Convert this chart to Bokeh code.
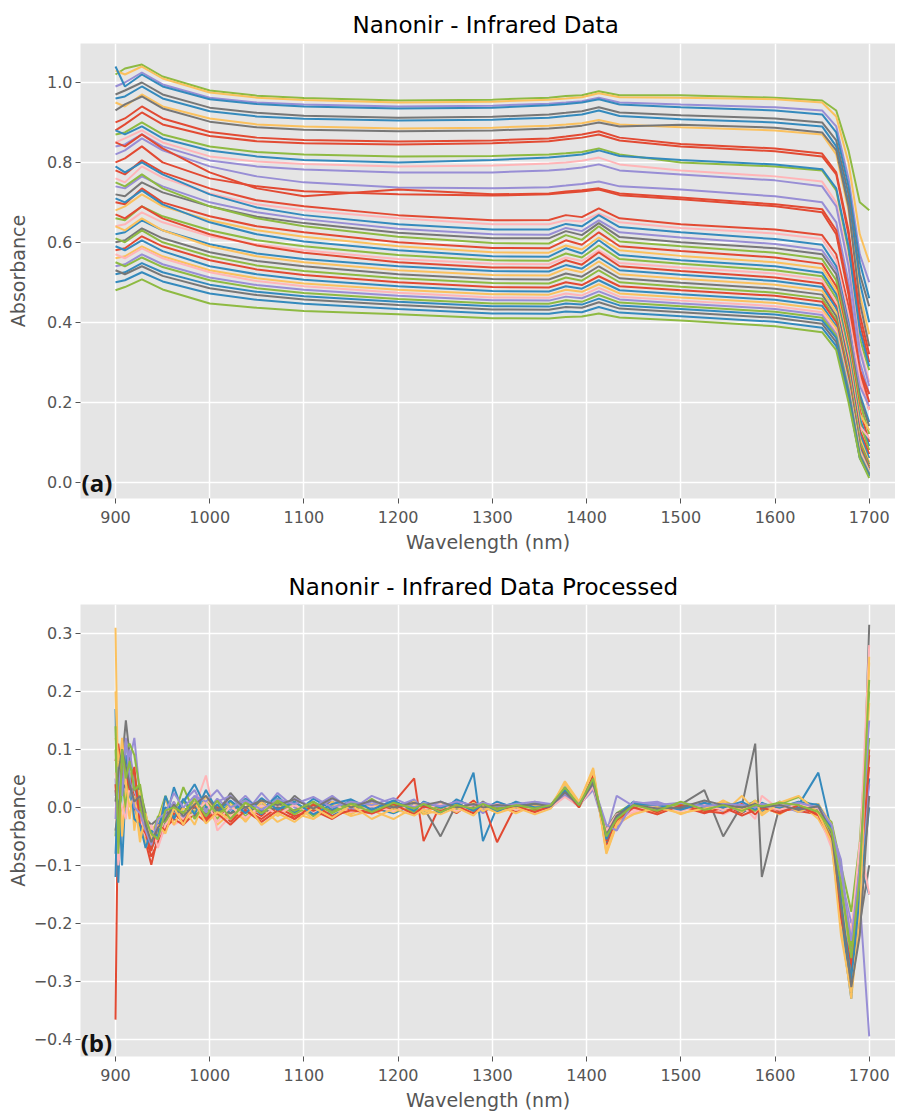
from bokeh.plotting import figure
from bokeh.layouts import column
from bokeh.models import Range1d, Label, FixedTicker, CustomJSTickFormatter
from bokeh.embed import file_html
from bokeh.resources import INLINE

# ---------------- data ----------------
WAVELENGTH_RAW = [900, 910, 928, 950, 1000, 1050, 1100, 1200, 1300, 1360, 1378,
                  1395, 1413, 1435, 1500, 1600, 1650, 1665, 1678, 1690, 1700]

# upper (flatter) spectra
raw_u01 = [1.02, 1.035, 1.045, 1.015, 0.98, 0.967, 0.961, 0.955, 0.957, 0.962, 0.966, 0.968, 0.978, 0.968, 0.968, 0.962, 0.955, 0.93, 0.83, 0.70, 0.68]
raw_u02 = [1.03, 1.02, 1.04, 1.01, 0.975, 0.962, 0.956, 0.95, 0.952, 0.957, 0.96, 0.963, 0.973, 0.963, 0.962, 0.958, 0.95, 0.915, 0.80, 0.62, 0.55]
raw_u03 = [0.99, 1.0, 1.025, 0.995, 0.962, 0.95, 0.945, 0.94, 0.942, 0.947, 0.95, 0.953, 0.962, 0.95, 0.945, 0.938, 0.93, 0.89, 0.76, 0.57, 0.5]
raw_u04 = [1.04, 0.99, 1.02, 0.99, 0.958, 0.946, 0.94, 0.935, 0.937, 0.943, 0.946, 0.95, 0.958, 0.945, 0.938, 0.93, 0.92, 0.875, 0.74, 0.55, 0.46]
raw_u05 = [0.97, 0.98, 1.0, 0.97, 0.937, 0.924, 0.917, 0.912, 0.914, 0.92, 0.924, 0.928, 0.938, 0.925, 0.918, 0.91, 0.9, 0.855, 0.72, 0.52, 0.44]
raw_u06 = [0.96, 0.965, 0.99, 0.96, 0.928, 0.915, 0.909, 0.905, 0.907, 0.912, 0.916, 0.92, 0.93, 0.916, 0.908, 0.9, 0.89, 0.84, 0.70, 0.5, 0.4]
raw_u07 = [0.95, 0.94, 0.97, 0.94, 0.91, 0.895, 0.89, 0.885, 0.887, 0.892, 0.895, 0.898, 0.906, 0.895, 0.888, 0.88, 0.87, 0.82, 0.68, 0.47, 0.37]
raw_u08 = [0.93, 0.945, 0.965, 0.935, 0.902, 0.888, 0.882, 0.878, 0.88, 0.885, 0.888, 0.892, 0.9, 0.89, 0.894, 0.887, 0.875, 0.83, 0.69, 0.45, 0.34]
raw_u09 = [0.90, 0.91, 0.94, 0.91, 0.876, 0.862, 0.856, 0.852, 0.855, 0.86, 0.865, 0.87, 0.878, 0.862, 0.846, 0.835, 0.822, 0.775, 0.63, 0.42, 0.32]
raw_u10 = [0.88, 0.895, 0.925, 0.895, 0.866, 0.853, 0.848, 0.845, 0.848, 0.853, 0.858, 0.862, 0.87, 0.855, 0.84, 0.828, 0.815, 0.77, 0.62, 0.4, 0.3]
raw_u11 = [0.87, 0.875, 0.9, 0.87, 0.84, 0.826, 0.82, 0.815, 0.816, 0.82, 0.823, 0.826, 0.835, 0.82, 0.8, 0.79, 0.78, 0.73, 0.58, 0.36, 0.28]
raw_u12 = [0.88, 0.87, 0.89, 0.86, 0.83, 0.815, 0.806, 0.80, 0.806, 0.812, 0.816, 0.82, 0.83, 0.816, 0.806, 0.795, 0.783, 0.735, 0.59, 0.38, 0.29]
raw_u13 = [0.85, 0.86, 0.88, 0.85, 0.815, 0.802, 0.796, 0.79, 0.792, 0.797, 0.8, 0.804, 0.812, 0.795, 0.78, 0.765, 0.752, 0.70, 0.55, 0.34, 0.25]
raw_u14 = [0.84, 0.845, 0.87, 0.84, 0.805, 0.79, 0.782, 0.775, 0.775, 0.78, 0.783, 0.787, 0.795, 0.78, 0.77, 0.755, 0.74, 0.69, 0.54, 0.33, 0.24]
raw_u15 = [0.82, 0.83, 0.86, 0.83, 0.79, 0.765, 0.75, 0.737, 0.735, 0.738, 0.742, 0.746, 0.752, 0.74, 0.732, 0.715, 0.70, 0.65, 0.50, 0.30, 0.22]
raw_u16 = [0.85, 0.84, 0.87, 0.835, 0.775, 0.735, 0.715, 0.732, 0.72, 0.722, 0.727, 0.73, 0.735, 0.722, 0.712, 0.695, 0.683, 0.63, 0.48, 0.28, 0.2]
raw_u17 = [0.80, 0.81, 0.84, 0.80, 0.76, 0.74, 0.728, 0.72, 0.717, 0.72, 0.724, 0.727, 0.732, 0.718, 0.708, 0.69, 0.675, 0.62, 0.47, 0.27, 0.18]

# lower (sloping) spectra
raw_l01 = [0.78, 0.77, 0.805, 0.775, 0.735, 0.705, 0.69, 0.668, 0.655, 0.656, 0.668, 0.663, 0.685, 0.66, 0.645, 0.632, 0.618, 0.57, 0.44, 0.28, 0.22]
raw_l02 = [0.76, 0.75, 0.79, 0.762, 0.722, 0.695, 0.68, 0.66, 0.645, 0.645, 0.655, 0.652, 0.672, 0.65, 0.636, 0.622, 0.608, 0.555, 0.42, 0.26, 0.18]
raw_l03 = [0.79, 0.775, 0.80, 0.77, 0.72, 0.687, 0.668, 0.645, 0.632, 0.632, 0.646, 0.64, 0.668, 0.638, 0.625, 0.608, 0.594, 0.54, 0.40, 0.22, 0.15]
raw_l04 = [0.74, 0.735, 0.765, 0.74, 0.70, 0.675, 0.658, 0.634, 0.62, 0.619, 0.636, 0.628, 0.655, 0.625, 0.612, 0.596, 0.58, 0.53, 0.39, 0.24, 0.19]
raw_l05 = [0.72, 0.715, 0.75, 0.725, 0.69, 0.664, 0.648, 0.624, 0.61, 0.61, 0.628, 0.618, 0.648, 0.613, 0.60, 0.585, 0.57, 0.52, 0.38, 0.21, 0.14]
raw_l06 = [0.75, 0.74, 0.77, 0.735, 0.69, 0.66, 0.64, 0.614, 0.598, 0.597, 0.618, 0.606, 0.64, 0.602, 0.59, 0.574, 0.558, 0.505, 0.36, 0.2, 0.12]
raw_l07 = [0.70, 0.695, 0.735, 0.70, 0.665, 0.64, 0.625, 0.60, 0.586, 0.585, 0.605, 0.594, 0.625, 0.59, 0.578, 0.562, 0.546, 0.49, 0.35, 0.18, 0.1]
raw_l08 = [0.68, 0.69, 0.72, 0.69, 0.655, 0.63, 0.614, 0.59, 0.575, 0.574, 0.592, 0.582, 0.612, 0.58, 0.566, 0.55, 0.535, 0.48, 0.34, 0.17, 0.13]
raw_l09 = [0.71, 0.70, 0.73, 0.695, 0.65, 0.62, 0.602, 0.58, 0.565, 0.564, 0.585, 0.572, 0.605, 0.568, 0.555, 0.54, 0.524, 0.47, 0.33, 0.16, 0.09]
raw_l10 = [0.66, 0.655, 0.69, 0.665, 0.63, 0.605, 0.59, 0.568, 0.555, 0.554, 0.572, 0.562, 0.592, 0.558, 0.546, 0.53, 0.515, 0.46, 0.32, 0.15, 0.08]
raw_l11 = [0.64, 0.645, 0.675, 0.65, 0.615, 0.595, 0.58, 0.558, 0.546, 0.545, 0.562, 0.553, 0.58, 0.548, 0.537, 0.522, 0.506, 0.45, 0.31, 0.14, 0.11]
raw_l12 = [0.67, 0.66, 0.69, 0.66, 0.62, 0.592, 0.574, 0.55, 0.537, 0.536, 0.555, 0.544, 0.575, 0.54, 0.528, 0.512, 0.497, 0.44, 0.30, 0.13, 0.07]
raw_l13 = [0.62, 0.625, 0.655, 0.63, 0.595, 0.572, 0.558, 0.54, 0.528, 0.527, 0.543, 0.534, 0.562, 0.53, 0.519, 0.503, 0.488, 0.435, 0.29, 0.12, 0.06]
raw_l14 = [0.64, 0.63, 0.66, 0.63, 0.59, 0.565, 0.55, 0.53, 0.518, 0.517, 0.534, 0.525, 0.552, 0.52, 0.509, 0.494, 0.479, 0.425, 0.28, 0.11, 0.05]
raw_l15 = [0.60, 0.605, 0.635, 0.61, 0.575, 0.553, 0.54, 0.52, 0.508, 0.507, 0.522, 0.514, 0.54, 0.51, 0.499, 0.484, 0.469, 0.415, 0.27, 0.1, 0.045]
raw_l16 = [0.61, 0.60, 0.63, 0.60, 0.565, 0.542, 0.528, 0.51, 0.498, 0.497, 0.512, 0.504, 0.53, 0.5, 0.489, 0.474, 0.459, 0.405, 0.265, 0.1, 0.04]
raw_l17 = [0.58, 0.585, 0.615, 0.59, 0.555, 0.532, 0.518, 0.50, 0.488, 0.487, 0.5, 0.493, 0.515, 0.49, 0.48, 0.466, 0.451, 0.4, 0.26, 0.09, 0.035]
raw_l18 = [0.59, 0.58, 0.605, 0.578, 0.54, 0.52, 0.506, 0.49, 0.478, 0.477, 0.49, 0.484, 0.505, 0.48, 0.47, 0.456, 0.441, 0.39, 0.25, 0.085, 0.03]
raw_l19 = [0.56, 0.565, 0.59, 0.565, 0.53, 0.51, 0.497, 0.481, 0.47, 0.469, 0.481, 0.476, 0.495, 0.472, 0.462, 0.448, 0.433, 0.385, 0.245, 0.08, 0.028]
raw_l20 = [0.57, 0.56, 0.585, 0.56, 0.525, 0.503, 0.49, 0.474, 0.462, 0.461, 0.472, 0.467, 0.486, 0.464, 0.454, 0.44, 0.425, 0.375, 0.24, 0.075, 0.025]
raw_l21 = [0.54, 0.545, 0.57, 0.545, 0.512, 0.493, 0.481, 0.466, 0.455, 0.454, 0.464, 0.46, 0.477, 0.457, 0.447, 0.433, 0.418, 0.37, 0.235, 0.07, 0.022]
raw_l22 = [0.55, 0.54, 0.562, 0.538, 0.505, 0.485, 0.473, 0.458, 0.447, 0.446, 0.455, 0.451, 0.468, 0.449, 0.44, 0.426, 0.411, 0.365, 0.23, 0.068, 0.02]
raw_l23 = [0.52, 0.525, 0.548, 0.525, 0.494, 0.476, 0.465, 0.451, 0.44, 0.439, 0.447, 0.444, 0.459, 0.442, 0.433, 0.419, 0.404, 0.36, 0.225, 0.065, 0.018]
raw_l24 = [0.53, 0.52, 0.54, 0.516, 0.485, 0.468, 0.457, 0.443, 0.432, 0.431, 0.438, 0.436, 0.45, 0.434, 0.425, 0.411, 0.396, 0.35, 0.215, 0.062, 0.016]
raw_l25 = [0.50, 0.505, 0.525, 0.502, 0.472, 0.456, 0.446, 0.433, 0.422, 0.421, 0.427, 0.425, 0.438, 0.424, 0.415, 0.401, 0.386, 0.34, 0.21, 0.06, 0.014]
raw_l26 = [0.48, 0.488, 0.507, 0.482, 0.447, 0.436, 0.428, 0.42, 0.41, 0.409, 0.413, 0.414, 0.422, 0.412, 0.404, 0.39, 0.375, 0.33, 0.2, 0.06, 0.01]

RAW_SERIES = [raw_u01, raw_u02, raw_u03, raw_u04, raw_u05, raw_u06, raw_u07, raw_u08, raw_u09,
              raw_u10, raw_u11, raw_u12, raw_u13, raw_u14, raw_u15, raw_u16, raw_u17,
              raw_l01, raw_l02, raw_l03, raw_l04, raw_l05, raw_l06, raw_l07, raw_l08, raw_l09,
              raw_l10, raw_l11, raw_l12, raw_l13, raw_l14, raw_l15, raw_l16, raw_l17, raw_l18,
              raw_l19, raw_l20, raw_l21, raw_l22, raw_l23, raw_l24, raw_l25, raw_l26]
RAW_COLORS = ["green", "yellow", "purple", "blue", "gray", "blue", "yellow", "gray", "red",
              "red", "green", "blue", "pink", "purple", "purple", "red", "red",
              "red", "pink", "blue", "purple", "gray", "green", "red", "yellow", "blue",
              "green", "pink", "red", "blue", "yellow", "gray", "green", "red", "blue",
              "yellow", "pink", "purple", "green", "blue", "gray", "blue", "green"]

WAVELENGTH_PROC = [900, 903, 907, 911, 915, 920, 926, 932, 938, 945,
                   953, 962, 972, 984, 996, 1008, 1022, 1038, 1055, 1072,
                   1090, 1110, 1130, 1150, 1172, 1195, 1217, 1227, 1245, 1262,
                   1280, 1290, 1305, 1325, 1345, 1362, 1377, 1392, 1407, 1421,
                   1432, 1450, 1475, 1500, 1525, 1545, 1565, 1579, 1586, 1605,
                   1625, 1646, 1660, 1670, 1681, 1690, 1700]

proc_01 = [-0.366, 0.06, 0.10, 0.08, 0.03, 0.0, -0.03, -0.06, -0.099, -0.05,
           -0.03, 0.0, -0.02, 0.01, -0.02, 0.005, -0.025, 0.0, -0.015, 0.01,
           -0.02, 0.0, -0.01, 0.012, -0.005, 0.008, 0.05, -0.058, 0.005, -0.01,
           0.012, -0.004, 0.006, -0.008, 0.004, 0.002, 0.03, 0.004, 0.05, -0.06,
           -0.02, 0.005, -0.01, 0.003, -0.008, 0.004, -0.01, 0.006, -0.004, 0.008,
           -0.006, -0.012, -0.05, -0.15, -0.22, -0.1, 0.09]
proc_02 = [0.17, -0.13, 0.05, 0.02, 0.06, 0.01, -0.04, -0.02, -0.07, -0.04,
           -0.025, 0.035, -0.01, 0.01, -0.015, 0.005, -0.02, 0.01, -0.012, 0.015,
           -0.008, 0.01, -0.015, 0.008, 0.0, -0.01, 0.005, -0.005, 0.01, -0.008,
           0.06, -0.058, 0.0, 0.008, -0.006, 0.004, 0.028, 0.006, 0.045, -0.05,
           -0.012, 0.003, -0.006, 0.006, -0.004, 0.01, -0.008, 0.002, 0.008, -0.005,
           0.004, 0.06, -0.04, -0.2, -0.33, -0.12, 0.05]
proc_03 = [0.05, -0.05, 0.09, 0.11, 0.08, 0.12, 0.02, -0.05, -0.06, -0.035,
           0.0, -0.02, 0.01, 0.03, -0.01, 0.015, -0.005, 0.02, -0.01, 0.025,
           0.0, -0.01, 0.015, -0.005, 0.02, 0.005, -0.01, 0.01, -0.004, 0.012,
           0.002, -0.01, 0.008, 0.0, 0.01, 0.006, 0.022, 0.01, 0.035, -0.04,
           -0.035, 0.006, 0.01, -0.004, 0.006, -0.008, 0.003, 0.01, -0.002, 0.006,
           -0.004, 0.002, -0.03, -0.12, -0.2, -0.16, -0.395]
proc_04 = [0.03, -0.02, 0.08, 0.15, 0.09, 0.04, 0.03, -0.01, -0.07, -0.05,
           -0.02, -0.01, 0.0, -0.015, 0.01, -0.01, 0.025, -0.005, 0.01, -0.012,
           0.02, -0.006, 0.01, -0.01, 0.006, -0.004, 0.012, 0.0, -0.05, 0.006,
           -0.004, 0.01, -0.006, 0.006, -0.002, 0.0, 0.02, 0.002, 0.04, -0.045,
           -0.015, 0.0, -0.005, 0.005, 0.03, -0.05, 0.004, 0.11, -0.12, 0.003,
           -0.006, 0.0, -0.035, -0.14, -0.3, -0.2, 0.315]
proc_05 = [0.31, 0.0, 0.07, 0.02, -0.02, 0.05, -0.05, -0.03, -0.065, -0.045,
           -0.02, 0.01, -0.025, -0.005, 0.005, -0.03, -0.01, -0.02, 0.0, -0.025,
           -0.01, -0.02, 0.0, -0.015, -0.005, -0.02, 0.0, -0.012, -0.005, 0.006,
           -0.01, 0.0, -0.008, 0.004, -0.006, 0.004, 0.04, 0.008, 0.068, -0.08,
           -0.03, -0.01, 0.006, -0.012, 0.003, -0.01, 0.02, -0.006, 0.002, -0.012,
           0.01, -0.02, -0.06, -0.2, -0.33, -0.18, 0.25]
proc_06 = [-0.05, 0.04, 0.06, 0.1, 0.11, 0.09, 0.03, -0.04, -0.05, -0.02,
           0.02, -0.015, 0.035, -0.01, 0.0, -0.02, 0.01, -0.015, 0.005, -0.01,
           0.01, -0.015, 0.005, -0.01, 0.015, -0.008, 0.004, -0.01, 0.008, -0.004,
           0.006, -0.006, 0.004, -0.004, 0.008, 0.0, 0.025, 0.005, 0.04, -0.035,
           -0.01, 0.008, -0.004, 0.008, -0.006, 0.006, -0.004, 0.012, 0.0, 0.006,
           0.018, -0.004, -0.025, -0.1, -0.18, -0.06, 0.2]
proc_07 = [0.0, -0.1, -0.04, 0.05, 0.03, 0.0, 0.02, -0.04, -0.05, -0.06,
           -0.01, -0.03, -0.02, 0.0, 0.055, -0.04, -0.015, 0.0, -0.02, 0.005,
           -0.015, 0.008, -0.01, 0.004, -0.012, 0.01, -0.004, 0.006, -0.006, 0.01,
           -0.008, 0.004, -0.004, 0.006, -0.01, 0.002, 0.03, 0.0, 0.05, -0.055,
           -0.02, -0.008, 0.004, -0.006, 0.01, -0.012, 0.004, -0.02, 0.02, -0.004,
           0.008, -0.01, -0.07, -0.16, -0.26, -0.08, 0.28]
proc_08 = [0.08, 0.11, 0.05, 0.07, 0.04, 0.02, -0.01, -0.05, -0.085, -0.06,
           -0.035, -0.02, -0.03, -0.01, -0.025, 0.0, -0.02, -0.005, -0.02, 0.0,
           -0.015, -0.005, -0.02, 0.0, -0.01, 0.002, -0.006, 0.004, -0.008, 0.004,
           -0.004, 0.008, -0.06, 0.004, -0.004, 0.0, 0.032, 0.002, 0.055, -0.065,
           -0.025, 0.0, -0.008, 0.002, -0.01, 0.0, -0.014, -0.004, 0.004, -0.006,
           -0.002, -0.01, -0.05, -0.17, -0.28, -0.14, 0.1]
proc_09 = [-0.08, 0.03, -0.1, 0.04, 0.02, 0.0, 0.01, -0.03, -0.05, -0.03,
           0.0, -0.01, 0.01, 0.04, 0.0, 0.01, -0.01, 0.015, -0.005, 0.02,
           -0.01, 0.015, -0.004, 0.012, -0.008, 0.01, -0.002, 0.008, -0.01, 0.014,
           0.0, -0.004, 0.01, -0.002, 0.006, 0.004, 0.035, 0.006, 0.05, -0.06,
           -0.015, 0.01, -0.002, 0.004, -0.002, 0.006, 0.0, 0.004, -0.008, 0.01,
           0.0, 0.006, -0.045, -0.18, -0.32, -0.1, -0.15]
proc_10 = [0.02, 0.05, 0.08, 0.06, 0.1, 0.04, -0.02, -0.06, -0.045, -0.04,
           -0.015, 0.01, -0.02, 0.02, -0.005, 0.01, 0.02, -0.01, 0.025, -0.005,
           0.015, 0.0, 0.02, -0.004, 0.01, 0.0, 0.014, -0.004, 0.01, 0.0,
           0.006, 0.002, -0.004, 0.008, 0.002, 0.004, 0.02, 0.004, 0.03, -0.045,
           0.02, 0.002, 0.008, -0.002, 0.004, 0.002, -0.006, 0.008, 0.0, 0.004,
           -0.008, 0.004, -0.04, -0.09, -0.25, -0.13, 0.04]
proc_11 = [-0.04, 0.0, 0.03, 0.04, 0.02, 0.035, 0.01, -0.02, -0.03, -0.02,
           -0.01, -0.005, -0.01, 0.0, -0.012, -0.004, -0.01, 0.0, -0.008, 0.0,
           -0.005, 0.004, -0.006, 0.002, -0.004, 0.004, 0.0, -0.002, 0.003, 0.0,
           0.002, -0.002, 0.002, 0.0, 0.002, 0.002, 0.025, 0.004, 0.035, -0.04,
           -0.01, -0.002, 0.0, -0.002, 0.002, -0.002, 0.0, 0.002, -0.002, 0.0,
           -0.002, -0.004, -0.04, -0.15, -0.29, -0.2, -0.1]
proc_12 = [0.12, 0.09, -0.05, 0.03, 0.06, -0.04, 0.03, -0.07, -0.04, -0.025,
           0.015, -0.03, 0.0, -0.03, 0.02, -0.015, 0.005, -0.025, 0.01, -0.015,
           0.005, -0.02, 0.01, -0.012, 0.006, -0.008, 0.01, -0.01, 0.004, -0.008,
           0.008, -0.006, 0.004, -0.01, 0.004, 0.0, 0.045, 0.01, 0.062, -0.075,
           -0.025, 0.004, -0.012, 0.006, -0.006, 0.012, -0.004, 0.006, -0.01, 0.01,
           -0.008, 0.006, -0.03, -0.13, -0.31, -0.16, 0.18]
proc_13 = [0.1, -0.03, 0.04, 0.0, 0.07, 0.06, 0.0, -0.03, -0.06, -0.015,
           -0.025, 0.0, 0.012, -0.02, 0.01, -0.01, 0.0, 0.012, -0.01, 0.008,
           -0.012, 0.006, -0.008, 0.01, -0.006, 0.004, -0.008, 0.006, -0.002, 0.008,
           -0.006, 0.004, -0.002, 0.006, -0.006, 0.002, 0.03, 0.0, 0.045, -0.05,
           -0.018, 0.006, 0.0, 0.006, -0.004, 0.008, 0.002, -0.006, 0.006, -0.002,
           0.006, -0.006, -0.05, -0.14, -0.24, -0.09, 0.12]
proc_14 = [0.06, 0.02, 0.0, -0.02, 0.04, 0.01, -0.02, -0.05, -0.03, -0.07,
           -0.03, -0.01, -0.02, -0.01, 0.01, -0.025, 0.002, -0.018, 0.004, -0.012,
           0.004, -0.01, 0.006, -0.008, 0.002, -0.006, 0.004, -0.004, 0.006, -0.006,
           0.004, -0.002, 0.006, -0.004, 0.0, 0.0, 0.018, 0.002, 0.035, -0.04,
           -0.012, -0.004, 0.004, -0.006, 0.004, -0.004, 0.008, -0.002, 0.002, -0.004,
           0.006, -0.002, -0.045, -0.12, -0.22, -0.06, -0.15]
proc_15 = [0.04, -0.06, 0.11, 0.06, 0.03, 0.07, -0.03, -0.045, -0.075, -0.03,
           -0.04, -0.01, -0.025, 0.005, -0.02, -0.01, -0.03, -0.005, -0.025, -0.005,
           -0.02, 0.005, -0.015, -0.005, -0.01, 0.006, -0.012, 0.002, -0.006, 0.002,
           -0.01, 0.004, -0.004, 0.002, -0.008, 0.002, 0.028, 0.0, 0.052, -0.058,
           -0.022, 0.0, -0.012, 0.004, -0.006, -0.01, 0.006, -0.012, 0.0, -0.01,
           0.004, -0.014, -0.055, -0.19, -0.27, -0.11, 0.07]
proc_16 = [-0.12, 0.08, 0.02, 0.09, 0.05, -0.02, -0.03, -0.07, -0.04, -0.05,
           0.02, -0.02, 0.015, -0.012, 0.03, -0.006, 0.012, -0.01, 0.016, -0.004,
           0.01, -0.012, 0.006, 0.014, -0.004, 0.012, -0.006, 0.01, 0.0, 0.008,
           -0.006, 0.006, -0.008, 0.01, 0.0, 0.002, 0.03, 0.004, 0.048, -0.055,
           -0.016, 0.006, 0.004, -0.004, 0.008, 0.0, 0.01, -0.004, 0.006, 0.0,
           0.01, 0.004, -0.035, -0.16, -0.3, -0.15, 0.0]
proc_17 = [0.2, 0.05, 0.12, 0.04, 0.0, 0.02, -0.06, -0.01, -0.055, -0.03,
           -0.045, 0.0, -0.03, 0.01, -0.028, -0.008, -0.02, 0.008, -0.03, -0.01,
           -0.025, 0.0, -0.018, 0.004, -0.02, -0.002, -0.014, -0.004, -0.012, 0.0,
           -0.014, 0.002, -0.01, 0.0, -0.012, -0.002, 0.042, 0.006, 0.065, -0.078,
           -0.028, -0.012, 0.0, -0.01, -0.002, 0.01, -0.008, 0.012, -0.014, 0.008,
           0.02, -0.01, -0.06, -0.22, -0.32, -0.2, 0.26]
proc_18 = [-0.02, 0.07, 0.02, 0.12, 0.05, 0.0, -0.01, -0.04, -0.065, -0.02,
           -0.01, 0.025, 0.0, 0.02, 0.01, 0.03, 0.0, 0.012, -0.004, 0.014,
           0.006, 0.018, 0.0, 0.01, 0.004, 0.016, 0.0, 0.008, 0.002, 0.01,
           0.004, 0.008, 0.002, 0.006, 0.01, 0.004, 0.024, 0.006, 0.04, -0.03,
           -0.04, 0.01, 0.004, 0.008, 0.002, 0.006, 0.004, 0.0, 0.006, 0.002,
           0.008, 0.0, -0.03, -0.11, -0.23, -0.1, 0.15]
proc_19 = [0.01, 0.06, 0.1, 0.07, 0.04, 0.01, 0.02, -0.03, -0.06, -0.035,
           -0.02, 0.005, -0.015, 0.005, 0.02, -0.005, 0.018, 0.0, 0.012, 0.004,
           0.014, -0.002, 0.016, 0.0, 0.012, 0.0, 0.008, 0.004, 0.01, 0.0,
           0.006, 0.0, 0.004, 0.002, 0.006, 0.002, 0.026, 0.004, 0.042, -0.048,
           -0.014, 0.004, -0.002, 0.0, 0.012, 0.004, 0.0, 0.006, 0.0, 0.004,
           -0.004, 0.002, -0.045, -0.17, -0.31, -0.22, 0.02]
proc_20 = [0.14, -0.08, 0.1, 0.05, 0.08, 0.03, 0.04, -0.02, -0.045, -0.055,
           -0.005, 0.0, -0.01, 0.015, -0.015, 0.012, -0.02, 0.008, -0.01, 0.012,
           -0.006, 0.01, -0.01, 0.006, -0.008, 0.008, -0.002, 0.006, -0.008, 0.004,
           -0.002, 0.006, -0.004, 0.004, -0.002, 0.004, 0.034, 0.004, 0.05, -0.05,
           -0.02, 0.004, -0.006, 0.01, -0.004, 0.004, -0.006, 0.004, 0.002, 0.008,
           0.004, -0.008, -0.04, -0.13, -0.26, -0.12, 0.22]

PROC_SERIES = [proc_01, proc_02, proc_03, proc_04, proc_05, proc_06, proc_07,
               proc_08, proc_09, proc_10, proc_11, proc_12, proc_13, proc_14,
               proc_15, proc_16, proc_17, proc_18, proc_19, proc_20]
PROC_COLORS = ["red", "blue", "purple", "gray", "yellow", "green", "pink",
               "red", "blue", "purple", "gray", "yellow", "green", "pink",
               "red", "blue", "yellow", "purple", "gray", "green"]

X_TICKS = [900, 1000, 1100, 1200, 1300, 1400, 1500, 1600, 1700]
Y_TICKS_RAW = [0.0, 0.2, 0.4, 0.6, 0.8, 1.0]
Y_TICKS_PROC = [-0.4, -0.3, -0.2, -0.1, 0.0, 0.1, 0.2, 0.3]

PALETTE = {"red": "#E24A33", "blue": "#348ABD", "purple": "#988ED5", "gray": "#777777",
           "yellow": "#FBC15E", "green": "#8EBA42", "pink": "#FFB5B8"}

FONT = "DejaVu Sans"
TEXT_GRAY = "#555555"


def style(p, yticks, title, title_offset, title_standoff, ylabel_standoff):
    p.title.text = title
    p.title.align = "left"
    p.title.offset = title_offset
    p.title.standoff = title_standoff
    p.title.text_font = FONT
    p.title.text_font_size = "23px"
    p.title.text_font_style = "normal"
    p.title.text_color = "black"
    p.background_fill_color = "#E5E5E5"
    p.border_fill_color = "white"
    p.outline_line_color = None
    for ax in (p.xaxis[0], p.yaxis[0]):
        ax.axis_line_color = None
        ax.major_tick_line_color = TEXT_GRAY
        ax.major_tick_line_width = 1
        ax.major_tick_in = 0
        ax.major_tick_out = 5
        ax.minor_tick_line_color = None
        ax.major_label_text_font = FONT
        ax.major_label_text_font_size = "16px"
        ax.major_label_text_color = TEXT_GRAY
        ax.axis_label_text_font = FONT
        ax.axis_label_text_font_size = "19px"
        ax.axis_label_text_font_style = "normal"
        ax.axis_label_text_color = TEXT_GRAY
    p.xaxis.major_label_standoff = 7
    p.xaxis.axis_label_standoff = 5
    p.yaxis.major_label_standoff = 3
    p.yaxis.axis_label_standoff = ylabel_standoff
    p.xaxis.ticker = FixedTicker(ticks=X_TICKS)
    p.yaxis.ticker = FixedTicker(ticks=yticks)
    p.yaxis.formatter = CustomJSTickFormatter(
        code="return (tick < -1e-9 ? '\u2212' : '') + Math.abs(tick).toFixed(1);")
    p.xaxis.axis_label = "Wavelength (nm)"
    p.yaxis.axis_label = "Absorbance"
    p.grid.grid_line_color = "white"
    p.grid.grid_line_width = 1.5
    p.xgrid.ticker = FixedTicker(ticks=X_TICKS)
    p.ygrid.ticker = FixedTicker(ticks=yticks)


X_START, X_END = 862.85, 1727.9

p1 = figure(width=895, height=556, output_backend="svg", toolbar_location=None,
            x_range=Range1d(X_START, X_END), y_range=Range1d(-0.0413, 1.0976),
            min_border_left=80, min_border_right=0, min_border_top=43, min_border_bottom=58)
style(p1, Y_TICKS_RAW, "Nanonir - Infrared Data", 272, 11, 15)
for ys, c in zip(RAW_SERIES, RAW_COLORS):
    p1.line(WAVELENGTH_RAW, ys, line_color=PALETTE[c], line_width=2)
p1.add_layout(Label(x=864.0, y=0.0, text="(a)", text_font="Open Sans", text_font_style="bold",
                    text_font_size="24px", text_color="#111111", text_baseline="middle",
                    text_align="left"))

p2 = figure(width=895, height=557, output_backend="svg", toolbar_location=None,
            x_range=Range1d(X_START, X_END), y_range=Range1d(-0.4296, 0.35),
            min_border_left=80, min_border_right=0, min_border_top=48, min_border_bottom=53)
style(p2, Y_TICKS_PROC, "Nanonir - Infrared Data Processed", 208, 9, 2)
for ys, c in zip(PROC_SERIES, PROC_COLORS):
    p2.line(WAVELENGTH_PROC, ys, line_color=PALETTE[c], line_width=2)
p2.add_layout(Label(x=863.0, y=-0.405, text="(b)", text_font="Open Sans", text_font_style="bold",
                    text_font_size="24px", text_color="#111111", text_baseline="middle",
                    text_align="left"))

layout = column(p1, p2, spacing=0)
open("out.html", "w").write(file_html(layout, INLINE))
